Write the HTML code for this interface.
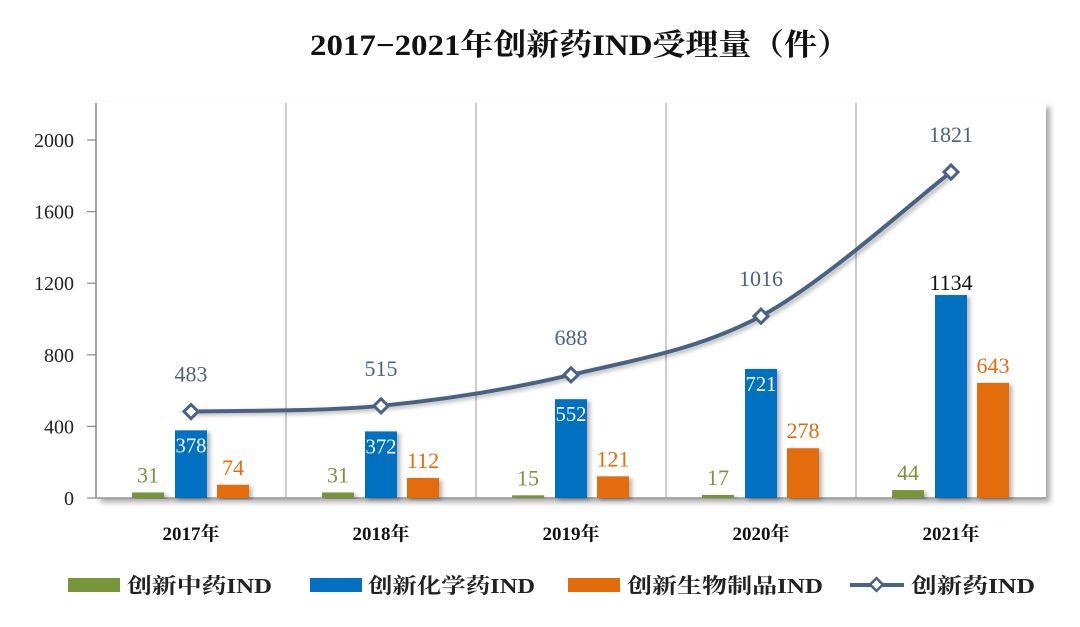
<!DOCTYPE html>
<html><head><meta charset="utf-8"><style>
body{margin:0;background:#fff;}
svg text{font-family:"Liberation Serif","Noto Serif CJK SC",serif;}
</style></head><body>
<svg width="1080" height="622" viewBox="0 0 1080 622">
<defs>
<filter id="sh" x="-10%" y="-10%" width="130%" height="130%"><feDropShadow dx="4" dy="4" stdDeviation="3" flood-color="#000" flood-opacity="0.35"/></filter>
<filter id="bs" x="-20%" y="-5%" width="160%" height="120%"><feDropShadow dx="3" dy="2" stdDeviation="2" flood-color="#000" flood-opacity="0.3"/></filter>
</defs>
<text x="580" y="55" text-anchor="middle" font-size="30" font-weight="bold" fill="#111" textLength="540" lengthAdjust="spacingAndGlyphs">2017−2021年创新药IND受理量（件）</text>
<rect x="96" y="103" width="950" height="395" fill="#fff" filter="url(#sh)"/>
<g id="grid"></g>
<g id="marks"></g>
<g id="legend">
<rect x="68" y="578" width="52" height="14" fill="#77963a"/>
<text x="127" y="593" font-size="21" font-weight="bold" fill="#222" textLength="145" lengthAdjust="spacingAndGlyphs">创新中药IND</text>
<rect x="310" y="578" width="52" height="14" fill="#0070c0"/>
<text x="368" y="593" font-size="21" font-weight="bold" fill="#222" textLength="167" lengthAdjust="spacingAndGlyphs">创新化学药IND</text>
<rect x="568" y="578" width="52" height="14" fill="#e36c0a"/>
<text x="627" y="593" font-size="21" font-weight="bold" fill="#222" textLength="196" lengthAdjust="spacingAndGlyphs">创新生物制品IND</text>
<line x1="850" y1="585" x2="904" y2="585" stroke="#4a6284" stroke-width="4"/>
<rect x="872" y="580" width="9" height="9" transform="rotate(45 876.5 584.5)" fill="#fff" stroke="#4a6284" stroke-width="2.5"/>
<text x="911" y="593" font-size="21" font-weight="bold" fill="#222" textLength="124" lengthAdjust="spacingAndGlyphs">创新药IND</text>
</g>
</svg>
<script>
const categories=["2017年","2018年","2019年","2020年","2021年"];
const tcm=[31,31,15,17,44];
const chem=[378,372,552,721,1134];
const bio=[74,112,121,278,643];
const total=[483,515,688,1016,1821];
const yTicks=[0,400,800,1200,1600,2000];
const NS="http://www.w3.org/2000/svg";
const x0=96,cw=190,yb=498,yt=140,ymax=2000;
const y=v=>yb-(v/ymax)*(yb-yt);
const cx=i=>x0+cw*i+cw/2;
function mk(t,a,p){const e=document.createElementNS(NS,t);for(const k in a)e.setAttribute(k,a[k]);(p||document.getElementById('marks')).appendChild(e);return e;}
const g=document.getElementById('grid');
let ax=mk('line',{x1:x0,y1:103,x2:x0,y2:yb,stroke:'#888','stroke-width':1.5},g);


yTicks.forEach(v=>{
 let l=mk('line',{x1:x0-9,y1:y(v),x2:x0,y2:y(v),stroke:'#888','stroke-width':1.2},g);
 
 
 let t=mk('text',{x:x0-22,y:y(v)+7,'text-anchor':'end','font-size':'20',fill:'#222'},g);
 t.textContent=v;
 
 
});
let bl=mk('line',{x1:x0,y1:yb,x2:x0+cw*5,y2:yb,stroke:'#999','stroke-width':1.5},g);


categories.forEach((c,i)=>{
 if(i>0){let s=mk('line',{x1:x0+cw*i,y1:103,x2:x0+cw*i,y2:yb,stroke:'#999','stroke-width':1},g);
 
 }
 let t=mk('text',{x:cx(i),y:540,'text-anchor':'middle','font-size':'19','font-weight':'bold',fill:'#111'},g);
 t.textContent=c;
 
 
});
const series=[[tcm,'#77963a',-59,'tcm'],[chem,'#0070c0',-16,'chem'],[bio,'#e36c0a',26,'bio']];
series.forEach(([d,col,off,nm])=>{
 d.forEach((v,i)=>{
  const bx=cx(i)+off,by=y(v);
  let r=mk('rect',{x:bx,y:by,width:32,height:yb-by,fill:col,filter:'url(#bs)'});
  
  
  let t;
  if(nm==='chem'){
   if(v>1000){t=mk('text',{x:bx+16,y:by-5,'text-anchor':'middle','font-size':'22',fill:'#111','font-family':'Liberation Sans, sans-serif'});}
   else{t=mk('text',{x:bx+16,y:by+22,'text-anchor':'middle','font-size':'21',fill:'#fff','textLength':'31','lengthAdjust':'spacingAndGlyphs'});}
  }else{
   t=mk('text',{x:bx+16,y:by-10,'text-anchor':'middle','font-size':'22',fill:col});
  }
  t.textContent=v;
  
  
 });
});
const pts=total.map((v,i)=>[cx(i),y(v)]);
let d='M'+pts[0][0]+','+pts[0][1];
for(let i=0;i<pts.length-1;i++){
 const p0=pts[Math.max(i-1,0)],p1=pts[i],p2=pts[i+1],p3=pts[Math.min(i+2,pts.length-1)];
 const c1=[p1[0]+(p2[0]-p0[0])/6,p1[1]+(p2[1]-p0[1])/6],c2=[p2[0]-(p3[0]-p1[0])/6,p2[1]-(p3[1]-p1[1])/6];
 d+=` C${c1[0]},${c1[1]} ${c2[0]},${c2[1]} ${p2[0]},${p2[1]}`;
}
let ln=mk('path',{d:d,fill:'none',stroke:'#4a6284','stroke-width':4,filter:'url(#bs)'});


pts.forEach((p,i)=>{
 let m=mk('rect',{x:p[0]-5,y:p[1]-5,width:10,height:10,transform:`rotate(45 ${p[0]} ${p[1]})`,fill:'#fff',stroke:'#4a6284','stroke-width':3});
 
 
 let t=mk('text',{x:p[0],y:p[1]-30,'text-anchor':'middle','font-size':'22',fill:'#4a6284'});
 t.textContent=total[i];
 
 
});
</script>
</body></html>
